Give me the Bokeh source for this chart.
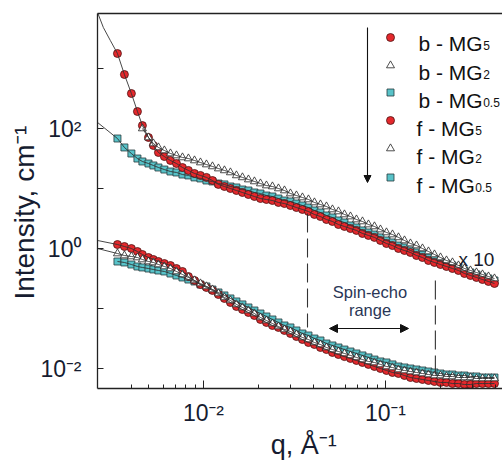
import math
from bokeh.plotting import figure
from bokeh.models import (FixedTicker, Label, Arrow, NormalHead, LogAxis, Range1d,
                          CustomJSTickFormatter)
from bokeh.embed import file_html
from bokeh.resources import INLINE

# ---------------- data ----------------
q = [0.00337, 0.00368, 0.00402, 0.00434, 0.00462, 0.00499, 0.00531, 0.00566, 0.0061, 0.00659,
     0.00711, 0.00767, 0.00827, 0.00893, 0.00963, 0.01039, 0.01121, 0.01209, 0.01304, 0.01407,
     0.01518, 0.01638, 0.01767, 0.01906, 0.02057, 0.02219, 0.02394, 0.02583, 0.02787, 0.03006,
     0.03243, 0.03499, 0.03775, 0.04073, 0.04394, 0.04741, 0.05115, 0.05518, 0.05953, 0.06423,
     0.06929, 0.07476, 0.08065, 0.08701, 0.09387, 0.1013, 0.1093, 0.1179, 0.1272, 0.1372,
     0.1481, 0.1597, 0.1723, 0.1859, 0.2006, 0.2164, 0.2334, 0.2518, 0.2717, 0.2931,
     0.3162, 0.3412, 0.3681, 0.3971]

# "b" samples (shown x 10)
b_MG5 = [1778, 794, 383, 192, 112, 70.8, 52.1, 39.8, 34.1, 29.3,
         26.1, 22.4, 20.0, 17.8, 16.5, 15.3, 13.6, 11.7, 10.8, 10.0,
         9.26, 8.58, 7.94, 7.36, 6.81, 6.56, 6.31, 5.85, 5.62, 5.21,
         4.82, 4.47, 4.14, 3.69, 3.41, 3.04, 2.82, 2.51, 2.33, 2.15,
         2.0, 1.78, 1.65, 1.53, 1.36, 1.21, 1.12, 1.0, 0.926, 0.858,
         0.764, 0.708, 0.631, 0.585, 0.541, 0.501, 0.464, 0.430, 0.383, 0.355,
         0.329, 0.304, 0.282, 0.261]
b_MG2_q = q[4:]
b_MG2 = [100, 70.8, 56.2, 48.3, 43.0, 38.3, 35.5, 32.9, 31.6, 29.3,
         27.1, 25.1, 23.3, 21.5, 20.0, 18.5, 16.5, 15.3, 14.1, 13.1,
         12.1, 11.2, 10.8, 10.0, 9.26, 8.25, 7.64, 7.08, 6.56, 5.85,
         5.41, 5.01, 4.47, 4.14, 3.69, 3.41, 3.04, 2.82, 2.51, 2.33,
         2.07, 1.85, 1.71, 1.53, 1.36, 1.21, 1.12, 1.0, 0.891, 0.794,
         0.708, 0.631, 0.585, 0.521, 0.464, 0.430, 0.398, 0.369, 0.341, 0.316]
b_MG05 = [68.1, 48.3, 38.3, 31.6, 28.2, 26.1, 24.2, 22.4, 20.7, 19.2,
          18.5, 17.1, 16.5, 15.3, 14.7, 13.6, 13.1, 12.1, 11.7, 10.8,
          10.4, 9.62, 9.26, 8.58, 8.25, 7.64, 7.36, 6.81, 6.31, 6.07,
          5.62, 5.21, 4.82, 4.30, 3.98, 3.55, 3.29, 2.93, 2.71, 2.42,
          2.24, 2.0, 1.85, 1.71, 1.53, 1.36, 1.26, 1.12, 1.04, 0.926,
          0.858, 0.794, 0.708, 0.656, 0.607, 0.562, 0.521, 0.483, 0.430, 0.398,
          0.369, 0.341, 0.316, 0.293]

# "f" samples
f_MG5 = [1.166, 1.080, 1.0, 0.891, 0.794, 0.708, 0.656, 0.607, 0.562, 0.521,
         0.464, 0.414, 0.341, 0.293, 0.251, 0.224, 0.200, 0.171, 0.147, 0.126,
         0.108, 0.0962, 0.0858, 0.0764, 0.0656, 0.0585, 0.0521, 0.0483, 0.0430, 0.0383,
         0.0341, 0.0304, 0.0271, 0.0251, 0.0224, 0.0207, 0.0185, 0.0171, 0.0158, 0.0147,
         0.0136, 0.0126, 0.0117, 0.0108, 0.0100, 0.00926, 0.00858, 0.00825, 0.00764, 0.00708,
         0.00681, 0.00656, 0.00631, 0.00607, 0.00585, 0.00585, 0.00562, 0.00562, 0.00541, 0.00541,
         0.00562, 0.00562, 0.00562, 0.00562]
f_MG2 = [0.825, 0.764, 0.736, 0.708, 0.656, 0.607, 0.585, 0.541, 0.501, 0.464,
         0.414, 0.369, 0.329, 0.293, 0.261, 0.233, 0.207, 0.178, 0.153, 0.136,
         0.117, 0.104, 0.0926, 0.0825, 0.0708, 0.0631, 0.0562, 0.0501, 0.0447, 0.0414,
         0.0369, 0.0329, 0.0304, 0.0271, 0.0251, 0.0224, 0.0207, 0.0192, 0.0178, 0.0165,
         0.0153, 0.0141, 0.0131, 0.0126, 0.0117, 0.0108, 0.0104, 0.00962, 0.00926, 0.00891,
         0.00858, 0.00825, 0.00794, 0.00764, 0.00764, 0.00736, 0.00736, 0.00708, 0.00708, 0.00708,
         0.00681, 0.00681, 0.00681, 0.00681]
f_MG05 = [0.607, 0.585, 0.541, 0.501, 0.483, 0.464, 0.447, 0.430, 0.414, 0.383,
          0.355, 0.329, 0.304, 0.282, 0.251, 0.233, 0.207, 0.185, 0.165, 0.147,
          0.131, 0.117, 0.104, 0.0926, 0.0825, 0.0736, 0.0656, 0.0585, 0.0521, 0.0483,
          0.0430, 0.0383, 0.0355, 0.0316, 0.0293, 0.0261, 0.0242, 0.0224, 0.0207, 0.0192,
          0.0178, 0.0165, 0.0153, 0.0141, 0.0131, 0.0126, 0.0117, 0.0108, 0.0104, 0.0100,
          0.00962, 0.00926, 0.00891, 0.00858, 0.00825, 0.00794, 0.00794, 0.00764, 0.00764, 0.00736,
          0.00736, 0.00708, 0.00708, 0.00708]

# fit-line starting points at low q (beyond the first data point)
fit_b5_q = [0.00262, 0.00282, 0.00308]
fit_b5_I = [8580, 4820, 2930]
fit_b05_q = [0.00262]
fit_b05_I = [126]
fit_f5_q = [0.00262]
fit_f5_I = [1.36]
fit_f2_q = [0.00262]
fit_f2_I = [1.0]

# spin-echo window (dashed lines)
spin_q = [0.0373, 0.188]
spin_top = [3.83, 0.293]
spin_bottom = [0.0483, 0.00585]

legend_main = ["b - MG", "b - MG", "b - MG", "f - MG", "f - MG", "f - MG"]
legend_sub = ["5", "2", "0.5", "5", "2", "0.5"]

x_major = [0.01, 0.1]
x_minor = [0.004, 0.005, 0.006, 0.007, 0.008, 0.009,
           0.02, 0.03, 0.04, 0.05, 0.06, 0.07, 0.08, 0.09, 0.2, 0.3, 0.4]
y_major = [1e-2, 1e-1, 1, 10, 100, 1000]
x_tick_text = {"-2": "10\u207b\u00b2", "-1": "10\u207b\u00b9"}
y_tick_text = {"-2": "10\u207b\u00b2", "0": "10\u2070", "2": "10\u00b2"}
x_title = "\u00a0q, \u00c5\u207b\u00b9"
y_title = "Intensity, cm\u207b\u00b9\u00a0\u00a0\u00a0"

# ---------------- layout ----------------
FX0, FX1 = 97, 502      # frame, canvas pixels
FY0, FY1 = 13, 388
LQ0 = -2.582
LQ1 = LQ0 + (FX1 - FX0) * 2.181 / 397
LI0, LI1 = 3.9167, -2.3333


def xd(px):
    return 10 ** (LQ0 + (px - FX0) * (LQ1 - LQ0) / (FX1 - FX0))


def yd(py):
    return 10 ** (LI0 + (py - FY0) * (LI1 - LI0) / (FY1 - FY0))


FONT = "Liberation Sans"
TFONT = "Liberation Sans, Noto Sans, DejaVu Sans"
TXT = "#161c30"
W = {'b': 0.556, 'f': 0.278, ' ': 0.278, '-': 0.333, 'M': 0.833, 'G': 0.778}


def tw(s, size):
    return sum(W.get(ch, 0.55) for ch in s) * size


p = figure(x_axis_type="log", y_axis_type="log",
           x_range=Range1d(10 ** LQ0, 10 ** LQ1), y_range=Range1d(10 ** LI1, 10 ** LI0),
           frame_width=FX1 - FX0, frame_height=FY1 - FY0,
           min_border_left=FX0, min_border_right=0, min_border_top=FY0,
           min_border_bottom=462 - FY1,
           output_backend="svg", toolbar_location=None)
p.background_fill_color = "white"
p.border_fill_color = "white"
p.outline_line_color = None
p.grid.visible = False

tick_code = "const e = String(Math.round(Math.log10(tick))); return (e in labels) ? labels[e] : '';"

xa = p.xaxis[0]
xa.ticker = FixedTicker(ticks=x_major, minor_ticks=x_minor)
xa.formatter = CustomJSTickFormatter(args=dict(labels=x_tick_text), code=tick_code)
xa.major_tick_in = 8
xa.major_tick_out = 0
xa.minor_tick_in = 4
xa.minor_tick_out = 0
xa.axis_line_color = "#222"
xa.axis_line_width = 1.3
xa.major_tick_line_color = "#222"
xa.minor_tick_line_color = "#222"
xa.major_label_text_font = TFONT
xa.major_label_text_font_size = "23px"
xa.major_label_text_color = TXT
xa.major_label_standoff = 11
xa.axis_label = x_title
xa.axis_label_text_font = TFONT
xa.axis_label_text_font_size = "27px"
xa.axis_label_text_font_style = "normal"
xa.axis_label_text_color = TXT
xa.axis_label_standoff = 1

ya = p.yaxis[0]
ya.ticker = FixedTicker(ticks=y_major, minor_ticks=[])
ya.formatter = CustomJSTickFormatter(args=dict(labels=y_tick_text), code=tick_code)
ya.major_tick_in = 6
ya.major_tick_out = 0
ya.minor_tick_line_color = None
ya.axis_line_color = "#222"
ya.axis_line_width = 1.3
ya.major_tick_line_color = "#222"
ya.major_label_text_font = TFONT
ya.major_label_text_font_size = "23px"
ya.major_label_text_color = TXT
ya.major_label_standoff = 16
ya.axis_label = y_title
ya.axis_label_text_font = TFONT
ya.axis_label_text_font_size = "28px"
ya.axis_label_text_font_style = "normal"
ya.axis_label_text_color = TXT
ya.axis_label_standoff = -3

top = LogAxis(ticker=FixedTicker(ticks=[], minor_ticks=[]),
              formatter=CustomJSTickFormatter(code="return '';"),
              major_tick_line_color=None, minor_tick_line_color=None,
              axis_line_color="#222", axis_line_width=1.3)
p.add_layout(top, "above")

RED = "#e4282c"
CYAN = "#58c2c8"
LINE = "#333333"


def markers(xs, ys, kind):
    if kind == "c":
        p.scatter(xs, ys, marker="circle", size=8, fill_color=RED, line_color="#4a1515", line_width=0.8)
    elif kind == "t":
        p.scatter(xs, ys, marker="triangle", size=8, fill_color="white", line_color="#222", line_width=0.8)
    else:
        p.scatter(xs, ys, marker="square", size=7, fill_color=CYAN, line_color="#263a3c", line_width=0.8)


# upper ("b") group
markers(q, b_MG05, "s")
markers(q, b_MG5, "c")
markers(b_MG2_q, b_MG2, "t")
# lower ("f") group
markers(q, f_MG05, "s")
markers(q, f_MG5, "c")
markers(q, f_MG2, "t")

# fit lines
p.line(fit_b5_q + q, fit_b5_I + b_MG5, line_color=LINE, line_width=0.9)
p.line(b_MG2_q, b_MG2, line_color=LINE, line_width=0.9)
p.line(fit_b05_q + q, fit_b05_I + b_MG05, line_color=LINE, line_width=0.9)
p.line(fit_f5_q + q, fit_f5_I + f_MG5, line_color=LINE, line_width=0.9)
p.line(fit_f2_q + q, fit_f2_I + f_MG2, line_color=LINE, line_width=0.9)
p.line(q, f_MG05, line_color=LINE, line_width=0.9)

# spin-echo window
p.segment(x0=spin_q, y0=spin_top, x1=spin_q, y1=spin_bottom,
          line_color="#333", line_width=1.1, line_dash="19 6")
p.add_layout(Arrow(x_start=xd(329), y_start=yd(328), x_end=xd(408), y_end=yd(328),
                   line_color="#111", line_width=1.2,
                   start=NormalHead(size=8, fill_color="#111", line_color="#111"),
                   end=NormalHead(size=8, fill_color="#111", line_color="#111")))


def text(px, py, s, size, align="left", color=TXT, angle=0.0):
    p.add_layout(Label(x=xd(px), y=yd(py), text=s, text_font=FONT,
                       text_font_size=f"{size}px", text_align=align,
                       text_baseline="alphabetic", text_color=color, angle=angle))


text(369.5, 291, "Spin-echo", 16.5, align="center", color="#2a3656")
text(369.5, 309, "range", 16.5, align="center", color="#2a3656")
text(458, 259, "x 10", 19, color="#161a2a")

# legend
rows_y = [37, 65, 92, 120, 148, 177]
rows_base = [43, 72, 100, 128, 156, 185]
kinds = ["c", "t", "s", "c", "t", "s"]
for i in range(6):
    markers([xd(390)], [yd(rows_y[i])], kinds[i])
    x0 = 418 if legend_main[i].startswith("b") else 416
    text(x0, rows_base[i], legend_main[i], 21, color="#111")
    text(x0 + tw(legend_main[i], 21) + 0.5, rows_base[i] + 2, legend_sub[i], 12, color="#111")

p.add_layout(Arrow(x_start=xd(367), y_start=yd(27), x_end=xd(367), y_end=yd(182),
                   line_color="#111", line_width=1.1,
                   end=NormalHead(size=7, fill_color="#111", line_color="#111")))

open("out.html", "w").write(file_html(p, INLINE))
